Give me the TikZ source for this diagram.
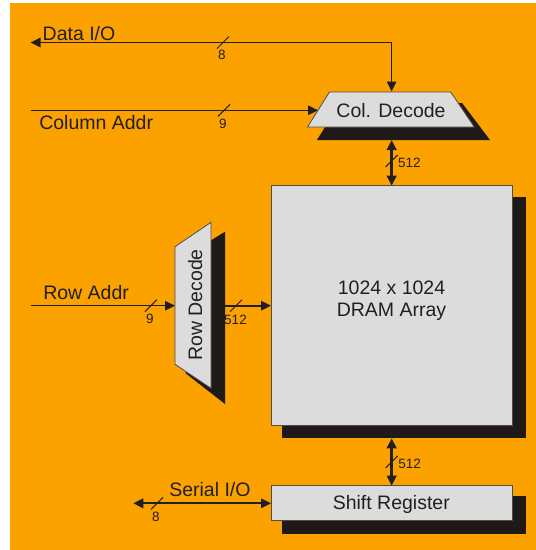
\documentclass[tikz,border=0pt]{standalone}
\usepackage{fontspec}
\setmainfont{Liberation Sans}
\usetikzlibrary{arrows.meta}
\definecolor{bgorange}{RGB}{251,161,0}
\definecolor{boxgray}{RGB}{220,220,220}
\definecolor{shadowc}{RGB}{31,26,23}
\definecolor{inkc}{RGB}{35,31,32}
\definecolor{edgec}{RGB}{80,76,74}
\begin{document}
\begin{tikzpicture}[x=1pt,y=-1pt,
  lbl/.style={font=\fontsize{19.5}{23}\selectfont, text=inkc, inner sep=0pt, outer sep=0pt},
  buslbl/.style={font=\fontsize{13.5}{16}\selectfont, text=inkc, inner sep=0pt, outer sep=0pt},
  boxedge/.style={draw=edgec, line width=0.8pt, fill=boxgray},
  shadebox/.style={fill=shadowc, draw=none},
  wire/.style={draw=inkc, line width=1.3pt},
  midwire/.style={draw=inkc, line width=2pt},
  bigwire/.style={draw=inkc, line width=2.8pt},
  tipend/.style={-{Triangle[length=10pt,width=9.5pt]}},
  tipboth/.style={{Triangle[length=10pt,width=9.5pt]}-{Triangle[length=10pt,width=9.5pt]}},
  busmark/.pic={\draw[inkc, line width=1pt] (-6,6) -- (6,-6);}
]
\useasboundingbox (0,0) rectangle (536,550);
\fill[bgorange] (10,3) rectangle (536,550);

% ---- shadows ----
\fill[shadebox] (340,103) -- (462,103) -- (490,140) -- (317,140) -- cycle;
\fill[shadebox] (186,256) -- (225,231.7) -- (225,404) -- (185.7,373.3) -- cycle;
\fill[shadebox] (281.7,196.7) rectangle (525.7,438.3);
\fill[shadebox] (281.7,496) rectangle (525.7,534.3);

% ---- blocks ----
\draw[boxedge] (329.5,92) -- (450.7,92) -- (474.3,127) -- (307.5,127) -- cycle;
\draw[boxedge] (175,246.7) -- (211,222.3) -- (211,388.3) -- (175,364.3) -- cycle;
\node[boxedge, minimum width=241.3pt, minimum height=239.3pt, inner sep=0pt, outer sep=0pt] (array) at (391.65,305.35) {};
\node[boxedge, minimum width=241.3pt, minimum height=35pt, inner sep=0pt, outer sep=0pt] (shiftreg) at (391.65,503.2) {};

% ---- block texts ----
\node[lbl, anchor=base] (coldec) at (391,117.8) {Col. Decode};
\node[lbl, anchor=base, rotate=90] (rowdec) at (202,305) {Row Decode};
\node[lbl, anchor=base] (arr1) at (391.5,294) {1024 x 1024};
\node[lbl, anchor=base] (arr2) at (391.5,316) {DRAM Array};
\node[lbl, anchor=base] (srtext) at (391.3,509.3) {Shift Register};

% ---- connector end points ----
\coordinate (dataend) at (30.5,42.5);
\coordinate (cdtop) at (391.65,91.5);
\coordinate (colend) at (30.7,110.3);
\coordinate (cdleft) at (318,110.3);
\coordinate (cdbot) at (391.65,140);
\coordinate (rowend) at (30.5,305.7);
\coordinate (rdleft) at (175,305.7);
\coordinate (rdright) at (225,305.7);
\coordinate (arrbot) at (391.65,438.3);
\coordinate (serend) at (133.3,503.3);

% ---- connectors ----
\draw[wire, tipboth] (dataend) -| (cdtop);
\draw[wire, tipend] (colend) -- (cdleft);
\draw[bigwire, tipboth] (cdbot) -- (array.north);
\draw[wire, tipend] (rowend) -- (rdleft);
\draw[midwire, tipend] (rdright) -- (rdright -| array.west);
\draw[bigwire, tipboth] (arrbot) -- (shiftreg.north);
\draw[midwire, tipboth] (serend) -- (serend -| shiftreg.west);

% ---- bus width marks ----
\pic at (223,42.5) {busmark};
\pic at (224,110.3) {busmark};
\pic at (391.65,161) {busmark};
\pic at (151,305.7) {busmark};
\pic at (236,305.7) {busmark};
\pic at (391.65,462) {busmark};
\pic at (157,503.3) {busmark};

\node[buslbl, anchor=base] (w1) at (222,59) {8};
\node[buslbl, anchor=base] (w2) at (223,128.5) {9};
\node[buslbl, anchor=base west] (w3) at (398,167) {512};
\node[buslbl, anchor=base] (w4) at (150,323.3) {9};
\node[buslbl, anchor=base] (w5) at (235.5,324) {512};
\node[buslbl, anchor=base west] (w6) at (398.3,468) {512};
\node[buslbl, anchor=base] (w7) at (156,521) {8};

% ---- signal names ----
\node[lbl, anchor=base west] (t1) at (42.7,40) {Data I/O};
\node[lbl, anchor=base west] (t2) at (39.3,129) {Column Addr};
\node[lbl, anchor=base west] (t3) at (43.3,299.3) {Row Addr};
\node[lbl, anchor=base west] (t4) at (169.3,496.7) {Serial I/O};
\end{tikzpicture}
\end{document}
